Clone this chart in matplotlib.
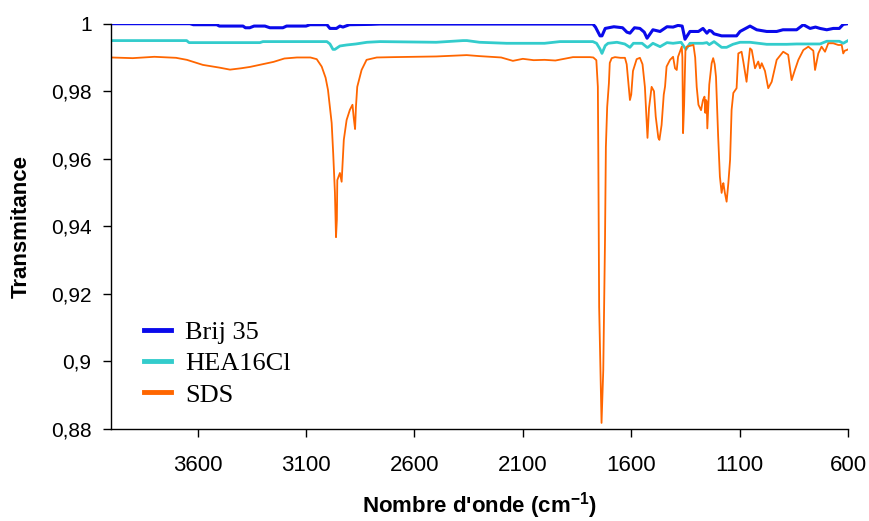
import matplotlib
matplotlib.use("Agg")
import matplotlib.pyplot as plt
from matplotlib.ticker import FuncFormatter

plt.rcParams['font.family'] = ['Liberation Sans', 'DejaVu Sans']
plt.rcParams['mathtext.fontset'] = 'custom'
plt.rcParams['mathtext.rm'] = 'Liberation Sans:bold'
plt.rcParams['mathtext.default'] = 'rm'

# Brij 35
brij_wn = [4000, 3636, 3620, 3512, 3500, 3391, 3380, 3360, 3340, 3290, 3267, 3207, 3190, 3100,
           3082, 3004, 2990, 2960, 2944, 2930, 2900, 2800, 2760, 2000, 1777, 1765, 1744, 1735,
           1720, 1680, 1640, 1620, 1606, 1585, 1560, 1540, 1527, 1500, 1467, 1435, 1407, 1384,
           1365, 1352, 1329, 1290, 1269, 1251, 1240, 1230, 1218, 1183, 1114, 1098, 1052, 1021,
           975, 929, 900, 837, 806, 775, 750, 729, 698, 668, 640, 622, 600]
brij_t = [1.0000, 1.0000, 0.9997, 0.9997, 0.9993, 0.9993, 0.9988, 0.9988, 0.9993, 0.9993, 0.9988,
          0.9988, 0.9993, 0.9993, 0.9997, 0.9997, 0.9986, 0.9986, 0.9993, 0.9990, 0.9997, 0.9998,
          0.9999, 0.9999, 0.9999, 0.9990, 0.9964, 0.9964, 0.9986, 0.9991, 0.9988, 0.9975, 0.9972,
          0.9988, 0.9986, 0.9975, 0.9957, 0.9982, 0.9977, 0.9991, 0.9990, 0.9995, 0.9993, 0.9954,
          0.9977, 0.9977, 0.9986, 0.9972, 0.9980, 0.9978, 0.9970, 0.9964, 0.9964, 0.9977, 0.9993,
          0.9982, 0.9977, 0.9977, 0.9982, 0.9982, 0.9997, 0.9986, 0.9990, 0.9986, 0.9982, 0.9986,
          0.9986, 0.9998, 1.0000]

# HEA16Cl
hea_wn = [4000, 3651, 3640, 3313, 3299, 3004, 2990, 2976, 2967, 2944, 2913, 2870, 2819, 2759,
          2500, 2376, 2358, 2300, 2175, 2000, 1929, 1777, 1760, 1744, 1735, 1720, 1707, 1666,
          1630, 1606, 1590, 1550, 1527, 1523, 1500, 1467, 1435, 1407, 1370, 1348, 1329, 1269,
          1251, 1240, 1218, 1183, 1160, 1131, 1098, 1052, 975, 883, 837, 775, 729, 698, 640,
          622, 600]
hea_t = [0.9950, 0.9950, 0.9944, 0.9944, 0.9947, 0.9947, 0.9940, 0.9924, 0.9924, 0.9934, 0.9937,
         0.9940, 0.9945, 0.9947, 0.9945, 0.9950, 0.9950, 0.9945, 0.9942, 0.9942, 0.9947, 0.9947,
         0.9942, 0.9925, 0.9912, 0.9935, 0.9942, 0.9945, 0.9940, 0.9930, 0.9942, 0.9942, 0.9930,
         0.9930, 0.9942, 0.9932, 0.9944, 0.9942, 0.9945, 0.9924, 0.9942, 0.9942, 0.9944, 0.9938,
         0.9947, 0.9930, 0.9930, 0.9939, 0.9945, 0.9945, 0.9939, 0.9939, 0.9940, 0.9940, 0.9940,
         0.9948, 0.9948, 0.9942, 0.9950]

# SDS
sds_wn = [4000, 3900, 3800, 3700, 3650, 3576, 3500, 3451, 3400, 3359, 3300, 3250, 3200, 3142,
          3080, 3051, 3028, 3010, 2999, 2982, 2975, 2967, 2962, 2958, 2956, 2944, 2936, 2926,
          2913, 2898, 2886, 2880, 2874, 2870, 2864, 2844, 2821, 2774, 2700, 2600, 2500, 2400,
          2359, 2300, 2200, 2146, 2100, 2050, 2000, 1950, 1900, 1869, 1790, 1775, 1761, 1754,
          1752, 1748, 1737, 1729, 1721, 1717, 1711, 1703, 1699, 1690, 1675, 1650, 1629, 1621,
          1610, 1606, 1600, 1592, 1575, 1560, 1548, 1537, 1528, 1525, 1518, 1506, 1495, 1487,
          1475, 1470, 1460, 1450, 1444, 1437, 1421, 1407, 1398, 1390, 1384, 1367, 1364, 1361,
          1356, 1350, 1344, 1313, 1305, 1298, 1290, 1278, 1269, 1262, 1258, 1255, 1252, 1249,
          1240, 1229, 1222, 1215, 1209, 1199, 1191, 1183, 1178, 1175, 1168, 1160, 1152, 1144,
          1137, 1129, 1114, 1106, 1091, 1083, 1068, 1060, 1052, 1044, 1029, 1014, 1006, 998,
          983, 968, 952, 929, 899, 876, 860, 845, 829, 806, 783, 760, 752, 737, 722, 706, 691,
          668, 645, 629, 622, 615, 606, 600]
sds_t = [0.9900, 0.9898, 0.9902, 0.9899, 0.9893, 0.9878, 0.9870, 0.9864, 0.9868, 0.9872, 0.9880,
         0.9887, 0.9897, 0.9900, 0.9900, 0.9895, 0.9873, 0.9840, 0.9804, 0.9706, 0.9617, 0.9500,
         0.9368, 0.9420, 0.9537, 0.9558, 0.9532, 0.9656, 0.9715, 0.9745, 0.9760, 0.9720, 0.9688,
         0.9754, 0.9813, 0.9863, 0.9893, 0.9900, 0.9901, 0.9902, 0.9903, 0.9906, 0.9907, 0.9904,
         0.9900, 0.9890, 0.9896, 0.9892, 0.9893, 0.9891, 0.9897, 0.9901, 0.9901, 0.9900, 0.9892,
         0.9813, 0.9626, 0.9161, 0.8818, 0.8975, 0.9360, 0.9635, 0.9753, 0.9824, 0.9884, 0.9898,
         0.9901, 0.9899, 0.9899, 0.9880, 0.9800, 0.9774, 0.9790, 0.9860, 0.9895, 0.9899, 0.9880,
         0.9813, 0.9700, 0.9662, 0.9750, 0.9813, 0.9800, 0.9725, 0.9662, 0.9656, 0.9700, 0.9790,
         0.9814, 0.9873, 0.9893, 0.9902, 0.9868, 0.9863, 0.9902, 0.9932, 0.9900, 0.9676, 0.9760,
         0.9920, 0.9932, 0.9937, 0.9900, 0.9813, 0.9760, 0.9744, 0.9774, 0.9784, 0.9736, 0.9774,
         0.9770, 0.9690, 0.9820, 0.9883, 0.9898, 0.9880, 0.9843, 0.9666, 0.9547, 0.9499, 0.9520,
         0.9528, 0.9499, 0.9473, 0.9528, 0.9597, 0.9745, 0.9795, 0.9809, 0.9912, 0.9917, 0.9888,
         0.9828, 0.9880, 0.9927, 0.9922, 0.9868, 0.9888, 0.9868, 0.9883, 0.9860, 0.9809, 0.9828,
         0.9893, 0.9917, 0.9908, 0.9833, 0.9863, 0.9893, 0.9922, 0.9932, 0.9920, 0.9863, 0.9912,
         0.9932, 0.9917, 0.9942, 0.9942, 0.9937, 0.9937, 0.9912, 0.9920, 0.9922, 0.9924]

x_ticks = [3600, 3100, 2600, 2100, 1600, 1100, 600]
y_ticks = [0.88, 0.90, 0.92, 0.94, 0.96, 0.98, 1.00]

fig = plt.figure(figsize=(8.7, 5.21), dpi=100)
ax = fig.add_axes([111 / 870, 92 / 521, 737 / 870, 405.3 / 521])

ax.plot(brij_wn, brij_t, color='#0A0AEB', lw=2.2, label='Brij 35')
ax.plot(hea_wn, hea_t, color='#33CCCC', lw=2.0, label='HEA16Cl')
ax.plot(sds_wn, sds_t, color='#FF6600', lw=1.3, label='SDS')

ax.set_xlim(4000, 600)
ax.set_ylim(0.88, 1.0)
ax.set_xticks(x_ticks)
ax.set_yticks(y_ticks)
ax.yaxis.set_major_formatter(FuncFormatter(lambda v, p: ('%g' % v).replace('.', ',')))
ax.tick_params(axis='y', labelsize=15, length=6, width=1, pad=8)
ax.tick_params(axis='x', labelsize=16, length=6, width=1, pad=13)
for s in ['top', 'right']:
    ax.spines[s].set_visible(False)
for s in ['left', 'bottom']:
    ax.spines[s].set_linewidth(1.0)
ax.patch.set_visible(False)

leg = ax.legend(loc='upper left', bbox_to_anchor=(0.045, 0.268), frameon=False,
                prop={'family': 'Liberation Serif', 'size': 19}, handlelength=1.0,
                handletextpad=0.55, labelspacing=0.3, borderpad=0, borderaxespad=0)
for h in leg.get_lines():
    h.set_linewidth(3.5)

fig.text(21.7 / 870, 0.566, 'Transmitance', rotation=90, ha='center', va='center',
         fontsize=16, fontweight='bold')
fig.text(479.5 / 870, 15 / 521, "Nombre d'onde (cm$^{-1}$)", ha='center', va='center',
         fontsize=16, fontweight='bold')

fig.savefig('out.png', dpi=100)
